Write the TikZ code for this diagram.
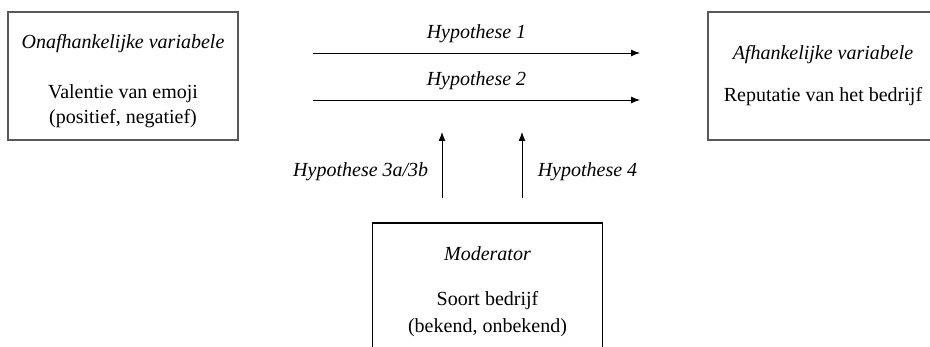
\documentclass[tikz,border=0pt]{standalone}
\usepackage{fontspec}
\setmainfont{Liberation Serif}
\usetikzlibrary{arrows.meta, arrows}

\begin{document}
\begin{tikzpicture}[x=1pt,y=-1pt,node distance=700pt,auto,>={Latex[length=9pt,width=7pt]},font=\fontsize{20}{25}\selectfont]
	\tikzstyle{var}=[draw=black!65, line width=1.2pt, minimum width=230pt, minimum height=128pt, align=center]
	\tikzstyle{modbox}=[var, draw=black, minimum height=138pt]
	\tikzstyle{hyp}=[->, line width=0.9pt]
	\tikzstyle{lbl}=[font=\fontsize{20}{25}\selectfont\itshape]

    \useasboundingbox (0,0) rectangle (930,347);
    \clip (0,0) rectangle (930,347);

    \node [var] (ind) at (123,76) {\rule{0pt}{24pt}\textit{Onafhankelijke variabele}\\[25pt]Valentie van emoji\\(positief, negatief)};
    \node [var] (dep) [right of=ind] {\textit{Afhankelijke variabele}\\[17pt]Reputatie van het bedrijf};
    \node [modbox] (moder) at (487.5,292) {\textit{Moderator}\\[20pt]Soort bedrijf\\[2pt](bekend, onbekend)};

    % free ends of the hypothesis arrows
    \coordinate (h1a) at (313,53);
    \coordinate (h1b) at (640,53);
    \coordinate (h2a) at (313,100);
    \coordinate (h2b) at (640,100);
    \coordinate (h3a) at (442,198);
    \coordinate (h3b) at (442,132);
    \coordinate (h4a) at (522,198);
    \coordinate (h4b) at (522,132);

    \path[hyp] (h1a) edge node[lbl, above=6pt] {Hypothese 1} (h1b);
    \path[hyp] (h2a) edge node[lbl, above=6pt] {Hypothese 2} (h2b);
    \path[hyp] (h3a) edge node[lbl, pos=0.4, left=10pt] {Hypothese 3a/3b} (h3b);
    \path[hyp] (h4a) edge node[lbl, pos=0.4, right=12pt] {Hypothese 4} (h4b);
\end{tikzpicture}
\end{document}
